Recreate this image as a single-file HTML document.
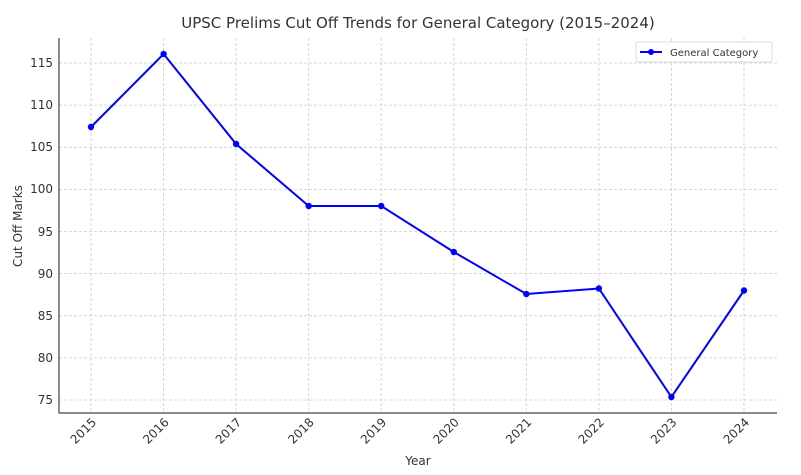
<!DOCTYPE html>
<html><head><meta charset="utf-8"><style>body{margin:0;background:#fff}svg{display:block;font-family:"DejaVu Sans","Liberation Sans",sans-serif}</style></head>
<body>
<svg width="801" height="475" viewBox="0 0 801 475" xmlns="http://www.w3.org/2000/svg">
<rect width="801" height="475" fill="#fff"/>
<text x="418" y="28" font-size="15" fill="#333" text-anchor="middle">UPSC Prelims Cut Off Trends for General Category (2015–2024)</text>
<g stroke="#ccc" stroke-width="0.8" stroke-dasharray="3,2">
<line x1="91" y1="38" x2="91" y2="413"/><line x1="163.6" y1="38" x2="163.6" y2="413"/><line x1="236.1" y1="38" x2="236.1" y2="413"/><line x1="308.7" y1="38" x2="308.7" y2="413"/><line x1="381.2" y1="38" x2="381.2" y2="413"/><line x1="453.8" y1="38" x2="453.8" y2="413"/><line x1="526.3" y1="38" x2="526.3" y2="413"/><line x1="598.9" y1="38" x2="598.9" y2="413"/><line x1="671.4" y1="38" x2="671.4" y2="413"/><line x1="744" y1="38" x2="744" y2="413"/>
<line x1="59" y1="400" x2="777" y2="400"/><line x1="59" y1="357.9" x2="777" y2="357.9"/><line x1="59" y1="315.8" x2="777" y2="315.8"/><line x1="59" y1="273.6" x2="777" y2="273.6"/><line x1="59" y1="231.5" x2="777" y2="231.5"/><line x1="59" y1="189.4" x2="777" y2="189.4"/><line x1="59" y1="147.3" x2="777" y2="147.3"/><line x1="59" y1="105.1" x2="777" y2="105.1"/><line x1="59" y1="63" x2="777" y2="63"/>
</g>
<g stroke="#444" stroke-width="1.2"><line x1="59" y1="38" x2="59" y2="413.5"/><line x1="58.5" y1="413" x2="777" y2="413"/></g>
<g font-size="12" fill="#333" text-anchor="end">
<text x="53" y="404">75</text><text x="53" y="362">80</text><text x="53" y="320">85</text><text x="53" y="278">90</text><text x="53" y="236">95</text><text x="53" y="193">100</text><text x="53" y="151">105</text><text x="53" y="109">110</text><text x="53" y="67">115</text>
</g>
<g font-size="12" fill="#333" text-anchor="end">
<text transform="translate(97,423) rotate(-45)">2015</text><text transform="translate(169.6,423) rotate(-45)">2016</text><text transform="translate(242.1,423) rotate(-45)">2017</text><text transform="translate(314.7,423) rotate(-45)">2018</text><text transform="translate(387.2,423) rotate(-45)">2019</text><text transform="translate(459.8,423) rotate(-45)">2020</text><text transform="translate(532.3,423) rotate(-45)">2021</text><text transform="translate(604.9,423) rotate(-45)">2022</text><text transform="translate(677.4,423) rotate(-45)">2023</text><text transform="translate(750,423) rotate(-45)">2024</text>
</g>
<text x="418" y="465" font-size="12" fill="#333" text-anchor="middle">Year</text>
<text transform="translate(22,226) rotate(-90)" font-size="12" fill="#333" text-anchor="middle">Cut Off Marks</text>
<polyline fill="none" stroke="#0000ff" stroke-width="2" points="91,127 163.6,54 236.1,144 308.7,206 381.2,206 453.8,252 526.3,294 598.9,288.5 671.4,397 744,290.5"/>
<g fill="#0000ff"><circle cx="91" cy="127" r="3.2"/><circle cx="163.6" cy="54" r="3.2"/><circle cx="236.1" cy="144" r="3.2"/><circle cx="308.7" cy="206" r="3.2"/><circle cx="381.2" cy="206" r="3.2"/><circle cx="453.8" cy="252" r="3.2"/><circle cx="526.3" cy="294" r="3.2"/><circle cx="598.9" cy="288.5" r="3.2"/><circle cx="671.4" cy="397" r="3.2"/><circle cx="744" cy="290.5" r="3.2"/></g>
<rect x="636" y="42" width="136" height="20" rx="2" fill="#fff" stroke="#ddd"/>
<line x1="640" y1="52" x2="662" y2="52" stroke="#0000ff" stroke-width="2"/><circle cx="651" cy="52" r="3" fill="#0000ff"/>
<text x="670" y="56" font-size="10" fill="#333">General Category</text>
</svg>
</body></html>
